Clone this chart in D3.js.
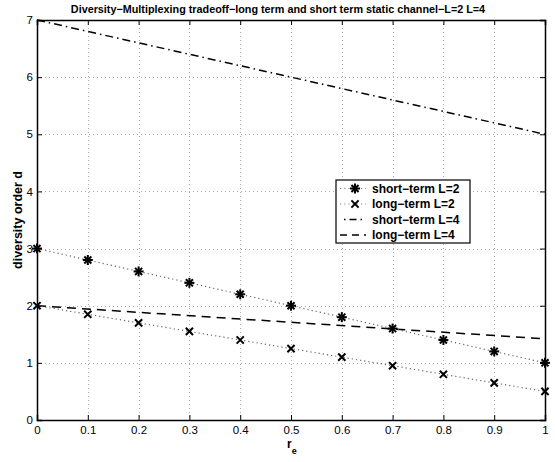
<!DOCTYPE html>
<html>
<head>
<meta charset="utf-8">
<script src="https://cdn.jsdelivr.net/npm/d3@7"></script>
<style>
body { margin: 0; background: #fff; }
text { font-family: "Liberation Sans", Arial, sans-serif; }
</style>
</head>
<body>
<script>
var rate = [0, 0.1, 0.2, 0.3, 0.4, 0.5, 0.6, 0.7, 0.8, 0.9, 1];
var shortL2 = [3, 2.8, 2.6, 2.4, 2.2, 2, 1.8, 1.6, 1.4, 1.2, 1];
var longL2 = [2, 1.85, 1.7, 1.55, 1.4, 1.25, 1.1, 0.95, 0.8, 0.65, 0.5];
var shortL4 = [7, 5];
var longL4 = [2, 1.42];
var endRate = [0, 1];
var xTicks = [0, 0.1, 0.2, 0.3, 0.4, 0.5, 0.6, 0.7, 0.8, 0.9, 1];
var yTicks = [0, 1, 2, 3, 4, 5, 6, 7];
var legendNames = ["short\u2212term L=2", "long\u2212term L=2", "short\u2212term L=4", "long\u2212term L=4"];

function init() {
    var w = 555, h = 462;
    var left = 37, right = 545, top = 20, bottom = 420;

    var svg = d3.select("body").append("svg").attr("width", w).attr("height", h);
    var x = d3.scaleLinear().domain([0, 1]).range([left, right]);
    var y = d3.scaleLinear().domain([0, 7]).range([bottom, top]);

    // grid
    var grid = svg.append("g").attr("stroke", "#aaa").attr("stroke-width", 1).attr("stroke-dasharray", "1,3");
    grid.selectAll(".gx").data(xTicks.slice(1, -1)).enter().append("line")
        .attr("x1", function (d) { return Math.round(x(d)) + 0.5; })
        .attr("x2", function (d) { return Math.round(x(d)) + 0.5; })
        .attr("y1", top).attr("y2", bottom);
    grid.selectAll(".gy").data(yTicks.slice(1, -1)).enter().append("line")
        .attr("y1", function (d) { return Math.round(y(d)) + 0.5; })
        .attr("y2", function (d) { return Math.round(y(d)) + 0.5; })
        .attr("x1", left).attr("x2", right);

    // axes, ticks inward
    var xAxis = svg.append("g").attr("transform", "translate(0," + bottom + ")")
        .call(d3.axisBottom(x).tickValues(xTicks).tickSize(-5).tickPadding(6)
            .tickFormat(function (d) { return d === 0 || d === 1 ? d3.format("d")(d) : d3.format(".1f")(d); }));
    var yAxis = svg.append("g").attr("transform", "translate(" + left + ",0)")
        .call(d3.axisLeft(y).tickValues(yTicks).tickSize(-5).tickPadding(4).tickFormat(d3.format("d")));
    var xTop = svg.append("g").attr("transform", "translate(0," + top + ")")
        .call(d3.axisTop(x).tickValues(xTicks).tickSize(-5).tickFormat(""));
    var yRight = svg.append("g").attr("transform", "translate(" + right + ",0)")
        .call(d3.axisRight(y).tickValues(yTicks).tickSize(-5).tickFormat(""));
    [xAxis, yAxis, xTop, yRight].forEach(function (a) {
        a.select(".domain").attr("stroke", "#000").attr("stroke-width", 1.5);
        a.selectAll(".tick line").attr("stroke", "#000");
        a.selectAll("text").attr("font-size", 11.5).attr("fill", "#000")
            .style("font-family", "'Liberation Sans', Arial, sans-serif");
    });

    var line = d3.line().x(function (d) { return x(d[0]); }).y(function (d) { return y(d[1]); });

    function pts(xs, ys) { return xs.map(function (v, i) { return [v, ys[i]]; }); }

    // short-term L=4, dash-dot
    svg.append("path").datum(pts(endRate, shortL4)).attr("d", line)
        .attr("fill", "none").attr("stroke", "#000").attr("stroke-width", 1.5)
        .attr("stroke-dasharray", "8,4,1.5,4");
    // long-term L=4, dashed
    svg.append("path").datum(pts(endRate, longL4)).attr("d", line)
        .attr("fill", "none").attr("stroke", "#000").attr("stroke-width", 1.5)
        .attr("stroke-dasharray", "9,6");
    // dotted L=2 lines
    [shortL2, longL2].forEach(function (s) {
        svg.append("path").datum(pts(rate, s)).attr("d", line)
            .attr("fill", "none").attr("stroke", "#666").attr("stroke-width", 1.2)
            .attr("stroke-dasharray", "1.2,3");
    });

    function star(g, cx, cy) {
        var r = 5;
        for (var k = 0; k < 4; k++) {
            var a = k * Math.PI / 4;
            g.append("line")
                .attr("x1", cx - r * Math.cos(a)).attr("y1", cy - r * Math.sin(a))
                .attr("x2", cx + r * Math.cos(a)).attr("y2", cy + r * Math.sin(a))
                .attr("stroke", "#000").attr("stroke-width", 2);
        }
    }
    function cross(g, cx, cy) {
        var r = 3.6;
        g.append("path")
            .attr("d", "M" + (cx - r) + "," + (cy - r) + "L" + (cx + r) + "," + (cy + r) +
                "M" + (cx - r) + "," + (cy + r) + "L" + (cx + r) + "," + (cy - r))
            .attr("stroke", "#000").attr("stroke-width", 2);
    }

    var marks = svg.append("g");
    rate.forEach(function (r, i) {
        star(marks, x(r), y(shortL2[i]));
        cross(marks, x(r), y(longL2[i]));
    });

    // legend
    var lg = svg.append("g").attr("transform", "translate(336,180)");
    lg.append("rect").attr("width", 134).attr("height", 63)
        .attr("fill", "#fff").attr("stroke", "#000").attr("stroke-width", 1.2);
    legendNames.forEach(function (name, i) {
        var ly = 8.5 + i * 15.5;
        var sample = lg.append("line").attr("x1", 4).attr("x2", 30).attr("y1", ly).attr("y2", ly)
            .attr("stroke", "#000").attr("fill", "none");
        if (i < 2) sample.attr("stroke", "#888").attr("stroke-width", 1.2).attr("stroke-dasharray", "1.2,3");
        if (i === 2) sample.attr("stroke-width", 1.5).attr("stroke-dasharray", "0,4,1.5,4,7,4,1.5,4");
        if (i === 3) sample.attr("stroke-width", 1.5).attr("stroke-dasharray", "7,5");
        if (i === 0) star(lg, 19, ly);
        if (i === 1) cross(lg, 19, ly);
        lg.append("text").attr("x", 36).attr("y", ly + 4).attr("font-size", 12)
            .attr("font-weight", "bold").text(name);
    });

    svg.append("text")
        .attr("x", 278).attr("y", 13).attr("text-anchor", "middle")
        .attr("font-size", 10.8).attr("font-weight", "bold")
        .text("Diversity\u2212Multiplexing tradeoff\u2212long term and short term static channel\u2212L=2 L=4");

    svg.append("text")
        .attr("transform", "translate(22,220) rotate(-90)").attr("text-anchor", "middle")
        .attr("font-size", 12.5).attr("font-weight", "bold").text("diversity order d");

    var xl = svg.append("text").attr("x", 287).attr("y", 448).attr("font-size", 12).attr("font-weight", "bold");
    xl.append("tspan").text("r");
    xl.append("tspan").attr("font-size", 9).attr("dy", 6).text("e");
}

window.onload = init;
</script>
</body>
</html>
